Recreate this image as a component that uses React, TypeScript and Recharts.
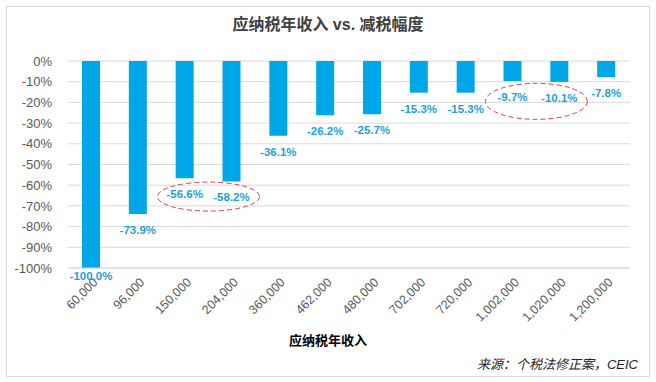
import React from 'react'
import { BarChart, Bar, XAxis, YAxis, CartesianGrid, LabelList, ReferenceDot } from 'recharts'

const incomes = ['60,000', '96,000', '150,000', '204,000', '360,000', '462,000', '480,000', '702,000', '720,000', '1,002,000', '1,020,000', '1,200,000']
const cuts = [-100, -73.9, -56.6, -58.2, -36.1, -26.2, -25.7, -15.3, -15.3, -9.7, -10.1, -7.8]
const yTicks = [0, -10, -20, -30, -40, -50, -60, -70, -80, -90, -100]
// circled pairs: first category of the pair, centre value (%), half-height (px)
const circles: [string, number, number][] = [
  ['150,000', -65.5, 14.5],
  ['1,002,000', -19.5, 18],
]

const data = incomes.map((income, i) => ({ income, cut: cuts[i] }))

const BLUE = '#00a7e8'
const FONT = 'Arial, "Liberation Sans", "Noto Sans CJK SC", sans-serif'
const PLOT_W = 656 - 68 - 26
const BAND = PLOT_W / incomes.length

const XTick = (props: any) => {
  const { x, y, payload } = props
  return (
    <g transform={`translate(${x + 7},${y + 7})`}>
      <text x={0} y={0} textAnchor="end" transform="rotate(-45)" fontSize={12.5} fill="#595959" fontFamily={FONT}>
        {payload.value}
      </text>
    </g>
  )
}

const BarLabel = (props: any) => {
  const { x, y, width, height, value } = props
  const bottom = Math.max(y, y + height)
  return (
    <text x={x + width / 2} y={Math.min(bottom + 20, 280)} textAnchor="middle" fontSize={11.5} fontWeight="bold" fill="#1ea0dc" fontFamily={FONT}>
      {Number(value).toFixed(1)}%
    </text>
  )
}

const makeEllipse = (ry: number) => (props: any) => {
  const { cx, cy } = props
  return (
    <ellipse cx={cx + BAND / 2} cy={cy} rx={51} ry={ry}
      fill="none" stroke="#d9404a" strokeWidth={1} strokeDasharray="5 3" />
  )
}

export default function App() {
  return (
    <div style={{ position: 'absolute', left: 0, top: 0, width: 656, height: 382, background: '#fff', fontFamily: FONT }}>
      <div style={{ position: 'absolute', left: 6, top: 6, width: 642, height: 369, border: '1px solid #d9d9d9' }} />
      <div style={{ position: 'absolute', left: 0, width: 656, top: 11, textAlign: 'center', fontSize: 16, fontWeight: 'bold', color: '#404040' }}>
        应纳税年收入 vs. 减税幅度
      </div>
      <div style={{ position: 'absolute', left: 0, top: 0 }}>
        <BarChart width={656} height={382} data={data} margin={{ top: 61, right: 26, left: 0, bottom: 54 }}>
          <CartesianGrid vertical={false} stroke="#d9d9d9" />
          <XAxis dataKey="income" axisLine={{ stroke: '#d9d9d9' }} tickLine={false} interval={0} height={60} tick={<XTick />} />
          <YAxis width={68} domain={[-100, 0]} ticks={yTicks} interval={0} axisLine={false} tickLine={false}
            tickFormatter={(v: number) => `${v}%`} tick={{ fontSize: 13, fill: '#595959', fontFamily: FONT }} tickMargin={10} />
          <Bar dataKey="cut" fill={BLUE} barSize={18} isAnimationActive={false}>
            <LabelList dataKey="cut" content={<BarLabel />} />
          </Bar>
          {circles.map(([a, mid, ry]) => (
            <ReferenceDot key={a} x={a} y={mid} r={ry} shape={makeEllipse(ry)} ifOverflow="visible" />
          ))}
        </BarChart>
      </div>
      <div style={{ position: 'absolute', left: 0, width: 656, top: 330, textAlign: 'center', fontSize: 13, fontWeight: 'bold', color: '#000' }}>
        应纳税年收入
      </div>
      <div style={{ position: 'absolute', right: 18, top: 354, fontSize: 13, fontStyle: 'italic', color: '#262626' }}>
        来源：个税法修正案，CEIC
      </div>
    </div>
  )
}
